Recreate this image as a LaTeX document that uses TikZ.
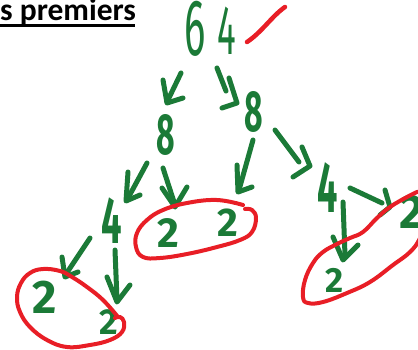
\documentclass[tikz,border=0pt]{standalone}
\usepackage{fontspec}
\usepackage{graphicx}
\newfontfamily\headfont{Carlito}
\newfontfamily\handfont{Fira Sans}
\definecolor{inkgreen}{RGB}{27,122,55}
\definecolor{inkred}{RGB}{232,30,38}
% narrow a handwritten-looking figure horizontally
\newcommand{\squeeze}[2]{\scalebox{#1}[1]{#2}}

\begin{document}
\begin{tikzpicture}[x=1pt,y=-1pt,
  pen/.style={draw=inkgreen, line width=5pt, line cap=round, line join=round},
  ring/.style={draw=inkred, line width=4pt, line cap=round, line join=round},
  digit/.style={text=inkgreen, inner sep=0pt, font=\handfont\bfseries\fontsize{#1}{#1}\selectfont},
  thindigit/.style={text=inkgreen, inner sep=0pt, font=\handfont\fontsize{#1}{#1}\selectfont},
]
\useasboundingbox (0,0) rectangle (418,349);
\clip (0,0) rectangle (418,349);

% heading
\node[anchor=base west, inner sep=0pt, font=\headfont\bfseries\fontsize{31.5}{31.5}\selectfont] (title) at (0,20.5) {s premiers};
\draw[line width=2.6pt] (title.base west) ++(0,4.8) coordinate (ul1) -- ++(135,0) coordinate (ul2);

% the number and its tick
\node[thindigit=80] (six) at (195,29) {\squeeze{0.5}{6}};
\node[thindigit=70] (four) at (227,31) {\squeeze{0.5}{4}};
\draw[draw=inkred, line width=4.5pt, line cap=round] (247,42) .. controls (262,32) and (272,16) .. (285,7);

% first split
\node[digit=58] (eightL) at (166,135) {\squeeze{0.55}{8}};
\node[digit=58] (eightR) at (254,112) {\squeeze{0.55}{8}};
\draw[pen] (181,73) -- (167,102);
\draw[pen] (163,80) -- (167,103) -- (183,98);
\draw[pen] (217,68) -- (226,91);
\draw[pen] (229,78) -- (237,103) -- (222,108);

% second level
\node[digit=66] (fourL) at (112,221) {\squeeze{0.55}{4}};
\node[digit=42] (twoA) at (168,233) {2};
\node[digit=40] (twoB) at (228,223) {2};
\node[digit=72] (fourR) at (328,188) {\squeeze{0.5}{4}};
\draw[pen] (147,163) -- (127,200);
\draw[pen] (128,172) -- (126,201) -- (140,195);
\draw[pen] (163,168) -- (175,205);
\draw[pen] (162,188) -- (175,207) -- (187,187);
\draw[pen] (253,140) -- (239,190);
\draw[pen] (237,165) -- (238,192) -- (252,187);
\draw[pen] (275,130) -- (299,162);
\draw[pen] (302,147) -- (310,166) -- (293,177);

% third level
\node[digit=47] (twoC) at (45,297) {2};
\node[digit=36] (twoD) at (109,322) {2};
\node[digit=35] (twoE) at (335,280) {2};
\node[digit=48] (twoF) at (412,212) {2};
\draw[pen] (90,238) -- (66,274);
\draw[pen] (62,257) -- (65,277) -- (78,272);
\draw[pen] (115,250) -- (117,300);
\draw[pen] (107,277) -- (117,302) -- (130,285);
\draw[pen] (350,188) -- (382,203);
\draw[pen] (385,190) -- (390,207) -- (380,215);
\draw[pen] (343,202) -- (345,255);
\draw[pen] (333,237) -- (343,260) -- (358,245);

% rings round the prime factors
\draw[ring] plot[smooth, tension=0.7] coordinates {
  (243,205) (217,200) (187,203) (163,210) (147,220) (137,233) (136,247)
  (143,257) (160,258) (187,254) (217,247) (240,240) (252,232) (256,218)
  (252,210) (245,209)};
\draw[ring] plot[smooth, tension=0.7] coordinates {
  (118,317) (103,300) (87,287) (72,277) (60,271) (43,269) (30,273)
  (21,283) (17,297) (20,312) (30,327) (47,340) (67,347) (90,345)
  (110,340) (122,332) (124,322) (120,317) (115,318)};
\draw[ring] plot[smooth, tension=0.7] coordinates {
  (417,192) (407,197) (390,207) (377,218) (363,232) (350,238) (337,244)
  (323,252) (313,263) (305,280) (303,297) (308,303) (323,302) (347,293)
  (370,282) (393,265) (410,252) (420,238) (428,215) (425,195) (417,192)};
\end{tikzpicture}
\end{document}
